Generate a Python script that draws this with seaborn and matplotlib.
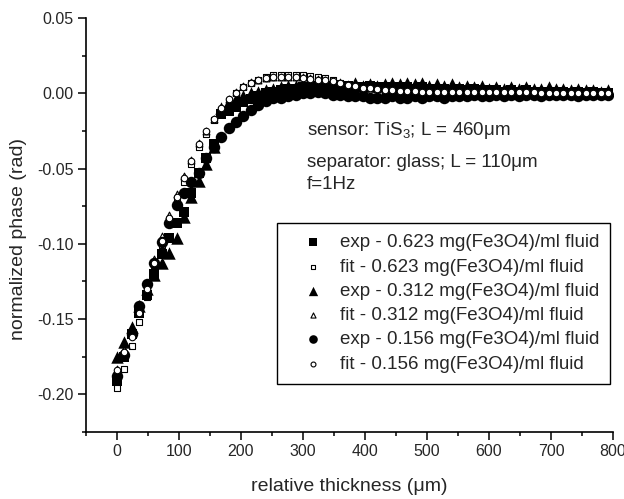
import matplotlib
matplotlib.use("Agg")
import matplotlib.pyplot as plt
import pandas as pd
import seaborn as sns

# sampling grid of the measurements (um)
thickness = list(range(0, 800, 12))

exp_623 = [-0.191, -0.175, -0.160, -0.146, -0.134, -0.120, -0.107, -0.096, -0.086, -0.079,
           -0.066, -0.053, -0.043, -0.034, -0.014, -0.012, -0.009, -0.006, -0.004, -0.002,
           0.000, 0.001, 0.002, 0.003, 0.003, 0.004, 0.004, 0.005, 0.004, 0.005,
           0.004, 0.005, 0.004, 0.004, 0.005, 0.004, 0.004, 0.003, 0.004, 0.004,
           0.003, 0.004, 0.003, 0.003, 0.003, 0.002, 0.003, 0.002, 0.003, 0.002,
           0.002, 0.002, 0.001, 0.002, 0.001, 0.002, 0.001, 0.001, 0.001, 0.001,
           0.001, 0.000, 0.001, 0.000, 0.001, 0.000, 0.000]
fit_623 = [-0.196, -0.183, -0.168, -0.152, -0.135, -0.118, -0.101, -0.086, -0.072, -0.059,
           -0.047, -0.036, -0.027, -0.018, -0.011, -0.005, 0.000, 0.004, 0.007, 0.009,
           0.011, 0.012, 0.012, 0.012, 0.012, 0.012, 0.0115, 0.011, 0.010, 0.0085,
           0.007, 0.0055, 0.0045, 0.0038, 0.0032, 0.0027, 0.0023, 0.002, 0.0017, 0.0014,
           0.0012, 0.001, 0.001, 0.0009, 0.0009, 0.0008, 0.0008, 0.0008, 0.0007, 0.0007,
           0.0007, 0.0007, 0.0006, 0.0006, 0.0006, 0.0006, 0.0006, 0.0005, 0.0005, 0.0005,
           0.0005, 0.0005, 0.0005, 0.0005, 0.0005, 0.0005, 0.0005]
exp_312 = [-0.175, -0.165, -0.155, -0.141, -0.130, -0.121, -0.113, -0.106, -0.096, -0.082,
           -0.069, -0.058, -0.047, -0.036, -0.010, -0.006, -0.004, -0.002, 0.000, 0.001,
           0.002, 0.003, 0.004, 0.005, 0.005, 0.006, 0.005, 0.006, 0.005, 0.007,
           0.006, 0.005, 0.007, 0.005, 0.006, 0.005, 0.006, 0.007, 0.006, 0.007,
           0.006, 0.007, 0.005, 0.006, 0.005, 0.006, 0.004, 0.005, 0.004, 0.005,
           0.003, 0.004, 0.003, 0.004, 0.003, 0.004, 0.003, 0.003, 0.004, 0.003,
           0.003, 0.002, 0.003, 0.002, 0.002, 0.001, 0.002]
fit_312 = [-0.183, -0.170, -0.156, -0.140, -0.126, -0.110, -0.095, -0.081, -0.067, -0.055,
           -0.044, -0.033, -0.025, -0.017, -0.010, -0.004, 0.001, 0.005, 0.0075, 0.009,
           0.010, 0.011, 0.011, 0.011, 0.011, 0.0105, 0.010, 0.0095, 0.009, 0.008,
           0.007, 0.0055, 0.0045, 0.0038, 0.0032, 0.0027, 0.0023, 0.002, 0.0017, 0.0014,
           0.0012, 0.001, 0.001, 0.0009, 0.0009, 0.0008, 0.0008, 0.0008, 0.0007, 0.0007,
           0.0007, 0.0007, 0.0006, 0.0006, 0.0006, 0.0006, 0.0006, 0.0005, 0.0005, 0.0005,
           0.0005, 0.0005, 0.0005, 0.0005, 0.0005, 0.0005, 0.0005]
exp_156 = [-0.188, -0.174, -0.160, -0.141, -0.127, -0.113, -0.099, -0.086, -0.074, -0.066,
           -0.059, -0.053, -0.043, -0.036, -0.029, -0.023, -0.019, -0.015, -0.011, -0.008,
           -0.005, -0.003, -0.003, -0.002, -0.001, 0.000, 0.000, 0.001, 0.000, -0.001,
           -0.001, -0.002, -0.002, -0.002, -0.003, -0.003, -0.003, -0.002, -0.003, -0.003,
           -0.002, -0.003, -0.002, -0.002, -0.003, -0.002, -0.002, -0.002, -0.001, -0.002,
           -0.002, -0.001, -0.002, -0.001, -0.002, -0.001, -0.001, -0.002, -0.001, -0.001,
           -0.001, -0.001, -0.002, -0.001, -0.001, -0.001, -0.001]
fit_156 = [-0.184, -0.172, -0.162, -0.146, -0.130, -0.113, -0.098, -0.083, -0.069, -0.056,
           -0.045, -0.034, -0.025, -0.017, -0.010, -0.004, 0.000, 0.004, 0.007, 0.009,
           0.010, 0.011, 0.011, 0.011, 0.0105, 0.010, 0.0095, 0.009, 0.0088, 0.008,
           0.007, 0.0055, 0.0045, 0.0038, 0.0032, 0.0027, 0.0023, 0.002, 0.0017, 0.0014,
           0.0012, 0.001, 0.001, 0.0009, 0.0009, 0.0008, 0.0008, 0.0008, 0.0007, 0.0007,
           0.0007, 0.0007, 0.0006, 0.0006, 0.0006, 0.0006, 0.0006, 0.0005, 0.0005, 0.0005,
           0.0005, 0.0005, 0.0005, 0.0005, 0.0005, 0.0005, 0.0005]

labels = ["exp - 0.623 mg(Fe3O4)/ml fluid", "fit - 0.623 mg(Fe3O4)/ml fluid",
          "exp - 0.312 mg(Fe3O4)/ml fluid", "fit - 0.312 mg(Fe3O4)/ml fluid",
          "exp - 0.156 mg(Fe3O4)/ml fluid", "fit - 0.156 mg(Fe3O4)/ml fluid"]
series = [exp_623, fit_623, exp_312, fit_312, exp_156, fit_156]

sns.set_style("ticks")
plt.rcParams["font.family"] = ["Liberation Sans", "DejaVu Sans"]
plt.rcParams["mathtext.fontset"] = "custom"
plt.rcParams["mathtext.rm"] = "Liberation Sans"

fig = plt.figure(figsize=(6.24, 4.99), dpi=100)
ax = fig.add_axes([86 / 624, 67 / 499, 527 / 624, 414 / 499])

# marker, size, filled?, zorder
styles = [("s", 62, True, 3), ("s", 22, False, 2),
          ("^", 80, True, 3), ("^", 24, False, 2),
          ("o", 68, True, 3), ("o", 22, False, 4)]

handles = []
for vals, lab, (mk, sz, filled, z) in zip(series, labels, styles):
    df = pd.DataFrame({"x": thickness, "y": vals})
    before = len(ax.collections)
    sns.scatterplot(data=df, x="x", y="y", ax=ax, marker=mk, s=sz,
                    color="black" if filled else "white",
                    edgecolor="black", linewidth=0 if filled else 0.8,
                    zorder=z, label=lab, legend=False)
    handles.append(ax.collections[before])

ax.set_xlim(-50, 800)
ax.set_ylim(-0.225, 0.05)
ax.set_xticks(range(0, 801, 100))
ax.set_xticks(range(-50, 801, 50), minor=True)
ax.set_yticks([-0.20, -0.15, -0.10, -0.05, 0.00, 0.05])
ax.set_yticks([-0.225, -0.175, -0.125, -0.075, -0.025, 0.025], minor=True)
ax.set_yticklabels(["-0.20", "-0.15", "-0.10", "-0.05", "0.00", "0.05"])
ax.tick_params(axis="both", which="major", direction="out", length=5.5, width=1.1,
               labelsize=11.5, color="black")
ax.tick_params(axis="both", which="minor", direction="out", length=3, width=1.1, color="black")
for side in ["left", "bottom"]:
    ax.spines[side].set_linewidth(1.2)
    ax.spines[side].set_color("black")
sns.despine(ax=ax)

ax.set_xlabel("relative thickness (\u03bcm)", fontsize=14, labelpad=13)
ax.set_ylabel("normalized phase (rad)", fontsize=14)
ax.yaxis.set_label_coords(-0.112, 0.465)

ax.text(0.419, 0.729, "sensor: TiS$_3$; L = 460\u03bcm", transform=ax.transAxes,
        fontsize=13.5, va="center")
ax.text(0.419, 0.652, "separator: glass; L = 110\u03bcm", transform=ax.transAxes,
        fontsize=13.5, va="center")
ax.text(0.419, 0.597, "f=1Hz", transform=ax.transAxes, fontsize=13.5, va="center")

leg = ax.legend(handles=handles, labels=labels, loc="upper right",
                bbox_to_anchor=(0.995, 0.505), borderaxespad=0, fontsize=13.5,
                frameon=True, fancybox=False, edgecolor="black", framealpha=1,
                markerscale=0.75, handlelength=2.6, handletextpad=0.15,
                labelspacing=0.38, borderpad=0.6)
leg.get_frame().set_linewidth(1.0)

fig.savefig("out.png", dpi=100)
